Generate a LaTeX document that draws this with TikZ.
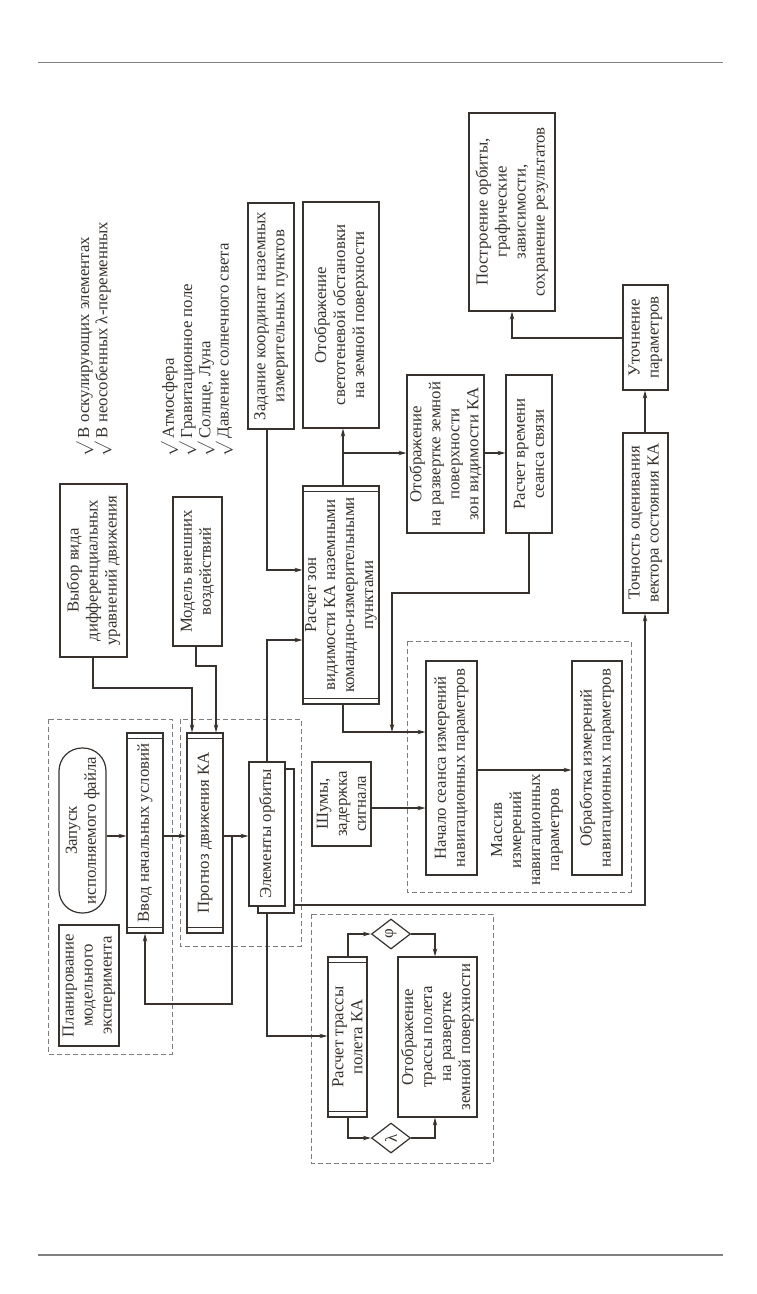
\documentclass[tikz,border=0pt]{standalone}
\usepackage{fontspec}
\setmainfont{Liberation Serif}
\usetikzlibrary{arrows.meta,shapes.geometric}
\definecolor{ink}{RGB}{55,50,46}
\definecolor{dashc}{RGB}{125,125,125}
\definecolor{rulec}{RGB}{128,128,128}
\newcommand{\fsz}{\fontsize{16.8}{19}\selectfont}
\newcommand{\fsl}{\fontsize{16.8}{16.9}\selectfont}
\newcommand{\ck}{$\surd$\ }
\begin{document}
\begin{tikzpicture}[x=1pt,y=-1pt,
 box/.style={draw=ink,line width=1.2pt,fill=white,rotate=90,align=center,inner sep=0pt,font=\fsz,text=ink},
 lbl/.style={rotate=90,align=center,inner sep=0pt,font=\fsz,text=ink},
 lst/.style={rotate=90,align=left,inner sep=0pt,font=\fsl,text=ink},
 arr/.style={draw=ink,line width=1.1pt,-{Stealth[length=8pt,width=4.5pt]}},
 con/.style={draw=ink,line width=1.1pt},
 inl/.style={draw=ink,line width=1pt},
 grp/.style={draw=dashc,line width=1pt,dash pattern=on 5pt off 3pt},
 dia/.style={draw=ink,line width=1.2pt,fill=white,diamond,aspect=1.3,minimum width=39pt,minimum height=30pt,inner sep=0pt,font=\fsz,text=ink}]
\useasboundingbox (0,0) rectangle (756,1294);
% rules
\draw[rulec,line width=0.9pt] (38,62) -- (723,62);
\draw[rulec,line width=1.6pt] (38,1255) -- (723,1255);
% group frames
\draw[grp] (48,719) rectangle (172,1054);
\draw[grp] (180,719) rectangle (301,946);
\draw[grp] (407,641) rectangle (631,892);
\draw[grp] (311,914) rectangle (493,1163);
% nodes
\node[box,minimum width=173pt,minimum height=67pt] (vybor) at (93.5,570.5) {Выбор вида\\дифференциальных\\уравнений движения};
\node[box,minimum width=149pt,minimum height=49pt] (model) at (197.5,571.5) {Модель внешних\\воздействий};
\node[lst,anchor=west,font=\fontsize{16.8}{18.3}\selectfont] (c1) at (94,457) {\ck В оскулирующих элементах\\\ck В неособенных λ-переменных};
\node[lst,anchor=west] (c2) at (197,457) {\ck Атмосфера\\\ck Гравитационное поле\\\ck Солнце, Луна\\\ck Давление солнечного света};
\node[box,minimum width=226pt,minimum height=46pt] (zad) at (271,316) {Задание координат наземных\\измерительных пунктов};
\node[box,minimum width=226pt,minimum height=76pt] (svet) at (341,315) {Отображение\\светотеневой обстановки\\на земной поверхности};
\node[box,minimum width=218pt,minimum height=76pt] (rz) at (341,595) {Расчет зон\\видимости КА наземными\\командно-измерительными\\пунктами};
\node[box,minimum width=158pt,minimum height=77pt] (razv) at (445.5,454) {Отображение\\на развертке земной\\поверхности\\зон видимости КА};
\node[box,minimum width=158pt,minimum height=46pt] (vrem) at (529,454) {Расчет времени\\сеанса связи};
\node[box,minimum width=198pt,minimum height=86pt] (postr) at (512,212) {Построение орбиты,\\графические\\зависимости,\\сохранение результатов};
\node[box,minimum width=105pt,minimum height=45pt] (utoch) at (645.5,337.5) {Уточнение\\параметров};
\node[box,minimum width=180pt,minimum height=45pt] (toch) at (645.5,523) {Точность оценивания\\вектора состояния КА};
\node[box,minimum width=214pt,minimum height=51pt] (nach) at (451.5,768) {Начало сеанса измерений\\навигационных параметров};
\node[box,minimum width=214pt,minimum height=50pt] (obr) at (597,768) {Обработка измерений\\навигационных параметров};
\node[lbl] (mas) at (527,830) {Массив\\измерений\\навигационных\\параметров};
\node[box,minimum width=84pt,minimum height=59pt] (shum) at (341.5,804) {Шумы,\\задержка\\сигнала};
\node[box,minimum width=144pt,minimum height=36pt] (elemb) at (276,841) {};
\node[box,minimum width=144pt,minimum height=36pt] (elem) at (267,834) {Элементы орбиты};
\node[box,minimum width=200pt,minimum height=36pt] (prog) at (205,833) {Прогноз движения КА};
\node[box,minimum width=200pt,minimum height=36pt] (vvod) at (145,833) {Ввод начальных условий};
\node[box,rounded corners=23pt,minimum width=165pt,minimum height=47pt] (zapusk) at (82.5,830.5) {Запуск\\исполняемого файла};
\node[box,minimum width=121pt,minimum height=60pt] (plan) at (89,985.5) {Планирование\\модельного\\эксперимента};
\node[box,minimum width=160pt,minimum height=39pt] (trassa) at (347.5,1037) {Расчет трассы\\полета КА};
\node[box,minimum width=160pt,minimum height=79pt] (otrtr) at (437.5,1037) {Отображение\\трассы полета\\на развертке\\земной поверхности};
\node[dia] (phi) at (391,934) {\rotatebox{90}{φ}};
\node[dia] (lam) at (391,1138) {\rotatebox{90}{λ}};
% predefined-process inner lines
\foreach \n in {vvod,prog,rz,trassa}{
  \draw[inl] ([yshift=-6pt]\n.north east) -- ([yshift=-6pt]\n.south east);
  \draw[inl] ([yshift=6pt]\n.north west) -- ([yshift=6pt]\n.south west);
}
% connectors
\coordinate (fb) at (232,836);
\coordinate (br) at (343,453);
\coordinate (jn) at (392,732);
\draw[arr] (zapusk.south |- 0,836) -- (vvod.north |- 0,836);
\draw[arr] (vvod.south |- 0,836) -- (prog.north |- 0,836);
\draw[arr] (prog.south |- 0,836) -- (elem.north |- 0,836);
\draw[arr] (fb) -- (232,1004) -| (145,0 |- vvod.west);
\draw[arr] (93,0 |- vybor.west) -- (93,688) -| (192,0 |- prog.east);
\draw[arr] (196,0 |- model.west) -- (196,666) -| (216,0 |- prog.east);
\draw[arr] (267,0 |- zad.west) |- (rz.north |- 0,570);
\draw[arr] (267,0 |- elem.east) |- (rz.north |- 0,640);
\draw[arr] (343,0 |- rz.east) -- (343,0 |- svet.west);
\draw[arr] (br) -- (razv.north |- br);
\draw[arr] (razv.south |- br) -- (vrem.north |- br);
\draw[arr] (529,0 |- vrem.west) -- (529,593) -| (jn);
\draw[arr] (343,0 |- rz.west) |- (nach.north |- 0,732);
\draw[arr] (shum.south |- 0,808) -- (nach.north |- 0,808);
\draw[arr] (nach.south |- 0,770) -- (obr.north |- 0,770);
\draw[arr] (elemb.south |- 0,905) -- (645,905) -- (645,0 |- toch.west);
\draw[arr] (645,0 |- toch.east) -- (645,0 |- utoch.west);
\draw[arr] (utoch.north |- 0,338) -| (512,0 |- postr.west);
\draw[arr] (267,0 |- elemb.west) |- (trassa.north |- 0,1036);
\draw[arr] (348,0 |- trassa.east) |- (phi.west);
\draw[arr] (phi.east) -| (435,0 |- otrtr.east);
\draw[arr] (348,0 |- trassa.west) |- (lam.west);
\draw[arr] (lam.east) -| (435,0 |- otrtr.west);
\end{tikzpicture}
\end{document}
